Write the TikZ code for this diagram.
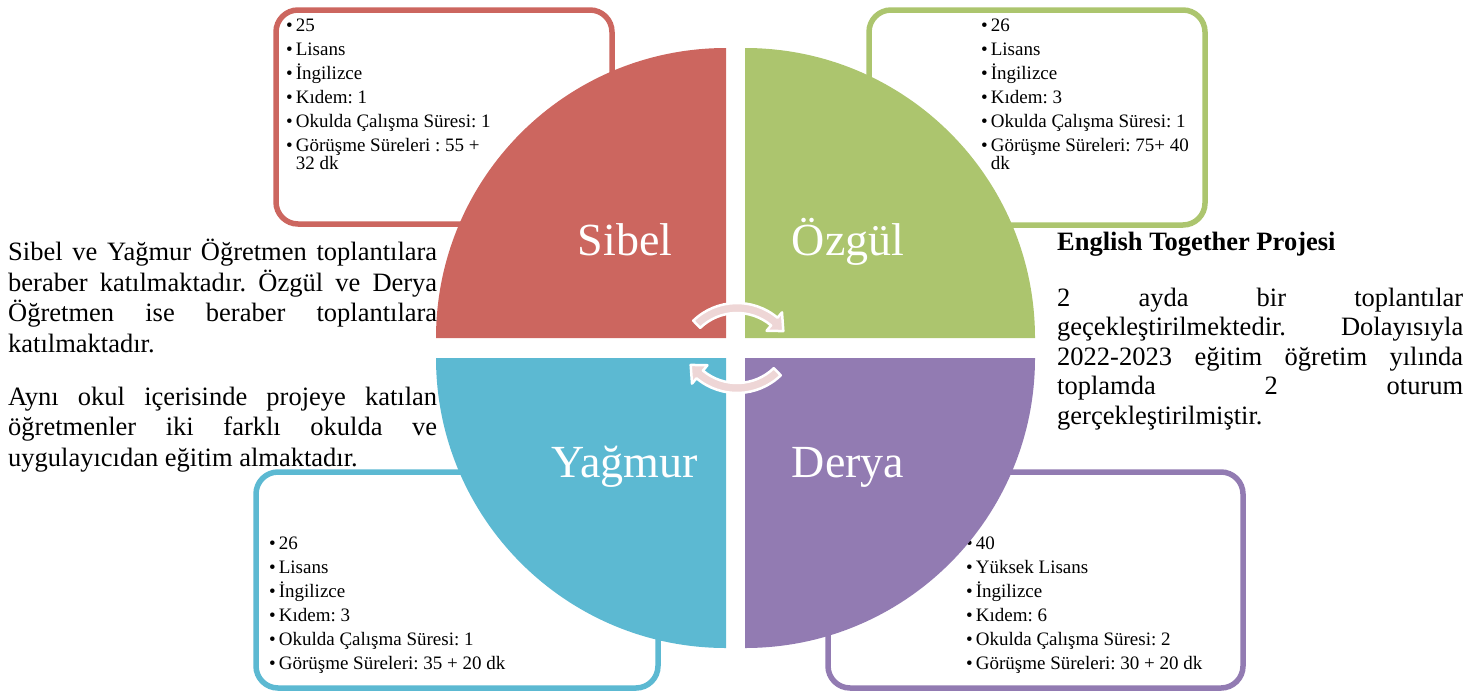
\documentclass[tikz,border=0pt]{standalone}
\usepackage{fontspec}
\setmainfont{Liberation Serif}
\usetikzlibrary{calc}
\frenchspacing

\definecolor{sibelred}{RGB}{204,102,95}
\definecolor{ozgulgreen}{RGB}{172,197,110}
\definecolor{yagmurblue}{RGB}{92,185,210}
\definecolor{deryapurple}{RGB}{146,123,178}
\definecolor{cyclepink}{RGB}{238,214,214}

\newcommand{\bul}{\textbullet\hspace{3pt}}
\newcommand{\nobul}{\phantom{\textbullet}\hspace{3pt}}

\begin{document}
\begin{tikzpicture}[x=1pt, y=1pt,
  infobox/.style = {line width=5.5pt, rounded corners=22pt, fill=white},
  infotext/.style = {anchor=base west, align=left, inner sep=0pt,
    font=\fontsize{19}{18}\selectfont},
  namelabel/.style = {anchor=base, inner sep=0pt, text=white,
    font=\fontsize{46}{50}\selectfont},
  bodytext/.style = {anchor=base west, inner sep=0pt, align=justify,
    font=\fontsize{26.5}{30.5}\selectfont},
  cyclearrow/.style = {fill=cyclepink, draw=white, line width=2.5pt,
    line join=round}]
  \useasboundingbox (0, 0) rectangle (1482, -691);

  % information boxes behind the circle
  \draw[infobox, draw=sibelred] (276, -10) rectangle (612, -224);
  \draw[infobox, draw=ozgulgreen] (869, -10) rectangle (1205, -225);
  \draw[infobox, draw=yagmurblue] (256, -472) rectangle (658, -688);
  \draw[infobox, draw=deryapurple] (828, -472) rectangle (1243, -688);

  % anchored at the last line
  \node[infotext] (sibelinfo) at (286, -169) {\bul 25\\[6pt] \bul Lisans\\[6pt]
    \bul İngilizce\\[6pt] \bul Kıdem: 1\\[6pt] \bul Okulda Çalışma Süresi: 1\\[6pt]
    \bul Görüşme Süreleri : 55 +\\ \nobul 32 dk};
  \node[infotext] (ozgulinfo) at (981, -169) {\bul 26\\[6pt] \bul Lisans\\[6pt]
    \bul İngilizce\\[6pt] \bul Kıdem: 3\\[6pt] \bul Okulda Çalışma Süresi: 1\\[6pt]
    \bul Görüşme Süreleri: 75+ 40\\ \nobul dk};
  \node[infotext] (yagmurinfo) at (269, -669) {\bul 26\\[6pt] \bul Lisans\\[6pt]
    \bul İngilizce\\[6pt] \bul Kıdem: 3\\[6pt] \bul Okulda Çalışma Süresi: 1\\[6pt]
    \bul Görüşme Süreleri: 35 + 20 dk};
  \node[infotext] (deryainfo) at (966, -669) {\bul 40\\[6pt] \bul Yüksek Lisans\\[6pt]
    \bul İngilizce\\[6pt] \bul Kıdem: 6\\[6pt] \bul Okulda Çalışma Süresi: 2\\[6pt]
    \bul Görüşme Süreleri: 30 + 20 dk};

  % the four quarters
  \fill[sibelred] (726, -338) -- (436, -338)
    arc[start angle = 180, end angle = 90, radius = 290] -- cycle;
  \fill[ozgulgreen] (745, -338) -- (745, -48)
    arc[start angle = 90, end angle = 0, radius = 290] -- cycle;
  \fill[yagmurblue] (726, -358) -- (726, -648)
    arc[start angle = 270, end angle = 180, radius = 290] -- cycle;
  \fill[deryapurple] (745, -358) -- (1035, -358)
    arc[start angle = 0, end angle = -90, radius = 290] -- cycle;

  \node[namelabel] (sibel) at (625, -255) {Sibel};
  \node[namelabel] (ozgul) at (848, -255) {Özgül};
  \node[namelabel] (yagmur) at (625, -477) {Yağmur};
  \node[namelabel] (derya) at (848, -477) {Derya};

  % circular arrows in the middle
  \coordinate (topturn) at (737, -366);
  \coordinate (bottomturn) at (737, -330);
  \draw[cyclearrow] ($(topturn) + (134:63)$)
    arc[start angle = 134, end angle = 50, radius = 63]
    -- ($(topturn) + (50:70)$) -- ($(topturn) + (37:58)$)
    -- ($(topturn) + (50:46)$) -- ($(topturn) + (50:53)$)
    arc[start angle = 50, end angle = 134, radius = 53] -- cycle;
  \draw[cyclearrow] ($(bottomturn) + (-46:63)$)
    arc[start angle = -46, end angle = -130, radius = 63]
    -- ($(bottomturn) + (-130:70)$) -- ($(bottomturn) + (-143:58)$)
    -- ($(bottomturn) + (-130:46)$) -- ($(bottomturn) + (-130:53)$)
    arc[start angle = -130, end angle = -46, radius = 53] -- cycle;

  % side texts
  \node[bodytext, text width=429] (meetings) at (8, -260.7) {Sibel ve Yağmur
    Öğretmen toplantılara\linebreak beraber katılmaktadır. Özgül ve
    Derya\linebreak Öğretmen ise beraber toplantılara\linebreak
    katılmaktadır.};
  \node[bodytext, text width=429] (schools) at (8, -405) {Aynı okul içerisinde
    projeye katılan\linebreak öğretmenler iki farklı okulda ve\linebreak
    uygulayıcıdan eğitim almaktadır.};
  \node[bodytext, font=\fontsize{26.5}{30.5}\selectfont\bfseries] (project)
    at (1057, -250) {English Together Projesi};
  \node[bodytext, text width=406, font=\fontsize{26.5}{29.5}\selectfont]
    (sessions) at (1057, -306) {2 ayda bir
    toplantılar\linebreak geçekleştirilmektedir. Dolayısıyla\linebreak
    2022-2023 eğitim öğretim yılında\linebreak toplamda 2 oturum\linebreak
    gerçekleştirilmiştir.};
\end{tikzpicture}
\end{document}
